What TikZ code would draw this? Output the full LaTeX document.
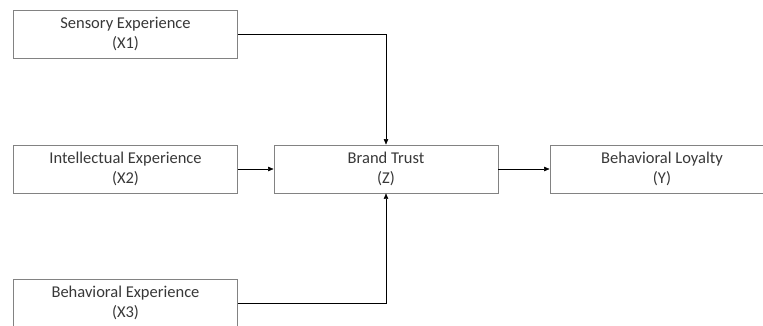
\documentclass[tikz,border=0pt]{standalone}
\usepackage{fontspec}
\setmainfont{Carlito}
\usetikzlibrary{arrows.meta}
\definecolor{boxline}{RGB}{130,130,130}
\definecolor{txt}{RGB}{56,56,56}
\begin{document}
\begin{tikzpicture}[x=1pt,y=-1pt,
  fbox/.style={draw=boxline, line width=0.9pt, fill=white, minimum width=224pt, minimum height=48pt,
    inner sep=0pt, align=center, font=\fontsize{16.5}{19.5}\selectfont, text=txt},
  arr/.style={draw=black, line width=0.45pt, -{Triangle[length=5.5pt,width=4.5pt]}}]
\clip (0,0) rectangle (763,325);
\node[fbox] (x1) at (125.5,34) {Sensory Experience\\(X1)};
\node[fbox] (x2) at (125.5,169) {Intellectual Experience\\(X2)};
\node[fbox] (z)  at (386,169) {Brand Trust\\(Z)};
\node[fbox] (y)  at (662,169) {Behavioral Loyalty\\(Y)};
\node[fbox] (x3) at (125.5,303) {Behavioral Experience\\(X3)};
\draw[arr] (x1.east) -| (z.north);
\draw[arr] (x2.east) -- (z.west);
\draw[arr] (z.east) -- (y.west);
\draw[arr] (x3.east) -| (z.south);
\end{tikzpicture}
\end{document}
